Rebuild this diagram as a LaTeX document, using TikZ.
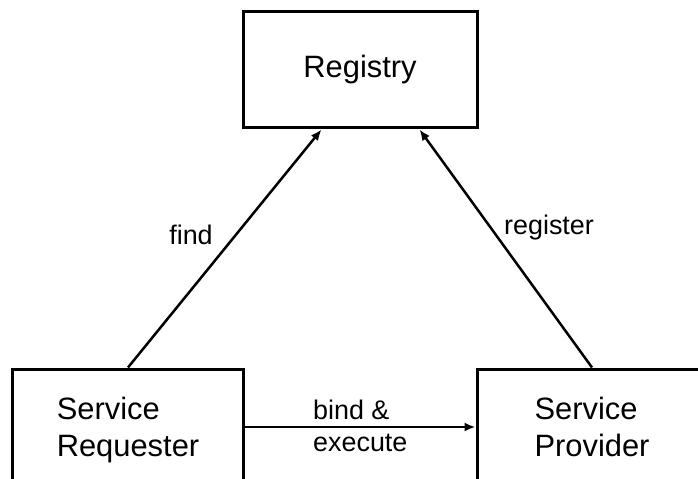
\documentclass[tikz,border=0pt]{standalone}
\usepackage{fontspec}
\setmainfont{Liberation Sans}
\usepackage{tikz}
\usetikzlibrary{positioning,arrows.meta}
\tikzset{ %
  ,>={Latex[length=11bp,width=9bp]}
  ,every node/.style={font=\fontsize{31}{37.5}\selectfont}
  ,box/.style={draw, line width=3bp, minimum width=230bp, minimum height=116bp, inner sep=0, align=left}
  ,lbl/.style={inner sep=0, font=\fontsize{27}{32}\selectfont, align=left}
  ,link/.style={->, line width=2.5bp}
}
\begin{document}
\begin{tikzpicture}[x=1bp,y=-1bp]
      \useasboundingbox (0,0) rectangle (698,479);
      \draw
      node[box, minimum width=234bp] at (360,70) (reg) {Registry}
      node[box] at (128,427) (req) {Service\\\smash{Requester}}
      node[box, right=231bp of req] (prov) {Service\\\smash{Provider}}
      node[lbl] at (191,235) (find) {find}
      node[lbl] at (549,228) (register) {register}
      node[lbl, anchor=west] at (313,426) (bind) {bind \&\\execute};
      \draw [link] (req.north) -- ([xshift=80bp]reg.south west);
      \draw [link] (prov.north) -- ([xshift=-59bp]reg.south east);
      \draw [link] (req) -- (prov);
    \end{tikzpicture}
\end{document}
